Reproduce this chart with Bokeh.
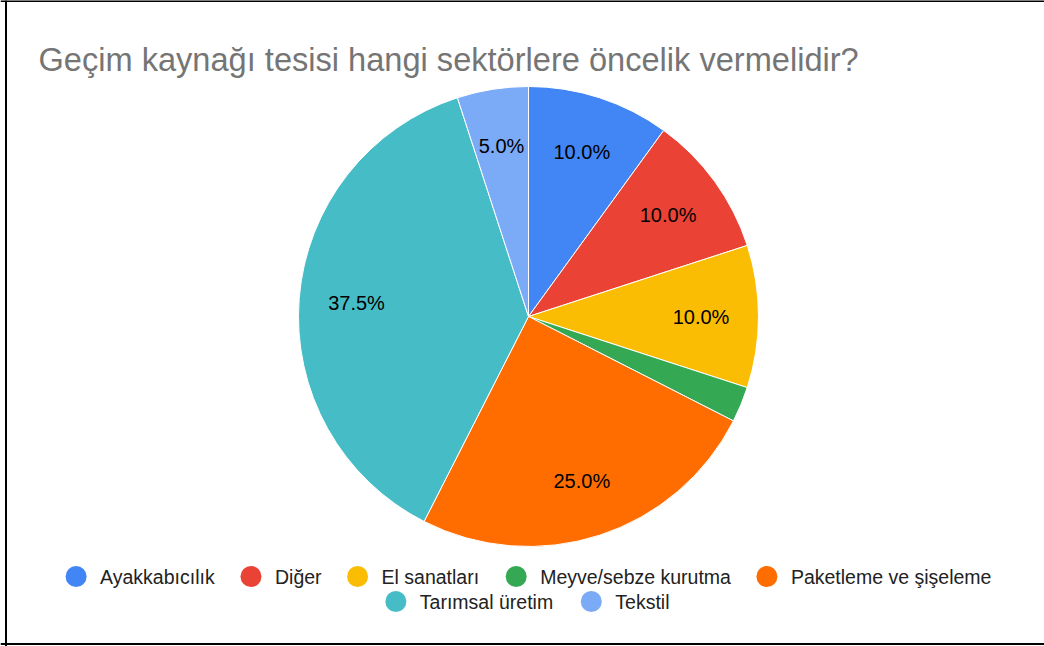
import math
from bokeh.plotting import figure
from bokeh.models import ColumnDataSource, Range1d, Span
from bokeh.core.properties import value
from bokeh.embed import file_html
from bokeh.resources import INLINE

# ---- data ----
title_text = "Geçim kaynağı tesisi hangi sektörlere öncelik vermelidir?"
categories = ["Ayakkabıcılık", "Diğer", "El sanatları", "Meyve/sebze kurutma",
              "Paketleme ve şişeleme", "Tarımsal üretim", "Tekstil"]
values = [10.0, 10.0, 10.0, 2.5, 25.0, 37.5, 5.0]
colors = ["#4285F4", "#EA4335", "#FBBC04", "#34A853", "#FF6D01", "#46BDC6", "#7BAAF7"]
show_label = [True, True, True, False, True, True, True]
legend_rows = [categories[:5], categories[5:]]

# ---- layout ----
W, H = 1044, 646
FONT = "Liberation Sans"
CX, CY, R = 528, 330, 230
LABEL_R = 0.75 * R
LABEL_FONT = 20
LEG_FONT = 19.5
LEG_Y = [70, 45]

# Arial / Liberation Sans advance widths (1/1000 em)
ADV = {" ": 278, "%": 889, ".": 278, "/": 278, "?": 556,
       "A": 667, "D": 722, "E": 722, "G": 778, "M": 833, "P": 667, "T": 611,
       "a": 556, "b": 556, "c": 500, "d": 556, "e": 556, "g": 556, "h": 556,
       "i": 222, "k": 500, "l": 222, "m": 833, "n": 556, "o": 556, "p": 556,
       "r": 333, "s": 500, "t": 278, "u": 556, "v": 500, "y": 500, "z": 500,
       "ı": 278, "ğ": 556, "ş": 500, "ü": 556, "ç": 500, "ö": 556}


def text_width(s, size):
    return sum(ADV.get(ch, 556) for ch in s) * size / 1000.0


total = sum(values)
starts, ends = [], []
cum = 0.0
for v in values:
    starts.append(math.pi / 2 - 2 * math.pi * cum / total)
    cum += v
    ends.append(math.pi / 2 - 2 * math.pi * cum / total)

pie = ColumnDataSource(dict(start=starts, end=ends, color=colors, cat=categories))

lx, ly, lt = [], [], []
for s, e, v, sh in zip(starts, ends, values, show_label):
    if not sh:
        continue
    mid = (s + e) / 2
    lx.append(CX + LABEL_R * math.cos(mid))
    ly.append(CY + LABEL_R * math.sin(mid))
    lt.append(f"{v / total * 100:.1f}%")
labels = ColumnDataSource(dict(x=lx, y=ly, t=lt))

# legend positions
DOT = 21
DOT_TO_TEXT = 13.5
ITEM_GAP = 25.5
mx, my, mc, tx, ty, tt = [], [], [], [], [], []
for row, yrow in zip(legend_rows, LEG_Y):
    widths = [DOT + DOT_TO_TEXT + text_width(c, LEG_FONT) for c in row]
    tot = sum(widths) + ITEM_GAP * (len(row) - 1)
    x = CX - tot / 2
    for c, w in zip(row, widths):
        mx.append(x + DOT / 2)
        my.append(yrow)
        mc.append(colors[categories.index(c)])
        tx.append(x + DOT + DOT_TO_TEXT)
        ty.append(yrow)
        tt.append(c)
        x += w + ITEM_GAP
leg_m = ColumnDataSource(dict(x=mx, y=my, c=mc))
leg_t = ColumnDataSource(dict(x=tx, y=ty, t=tt))

p = figure(width=W, height=H, output_backend="svg", toolbar_location=None,
           x_range=Range1d(0, W), y_range=Range1d(0, H),
           x_axis_location=None, y_axis_location=None, min_border=0)
p.grid.visible = False
p.outline_line_color = None
p.background_fill_color = "white"
p.border_fill_color = "white"

p.wedge(x=CX, y=CY, radius=R, start_angle="start", end_angle="end",
        direction="clock", fill_color="color", line_color="white",
        line_width=1, source=pie)

p.text(x="x", y="y", text="t", source=labels, text_font=value(FONT),
       text_font_size=f"{LABEL_FONT}px", text_color="#000000", text_align="center",
       text_baseline="middle")

p.text(x=[38], y=[587], text=[title_text], text_font=value(FONT),
       text_font_size="32.6px", text_color="#757575", text_align="left",
       text_baseline="alphabetic")

p.scatter(x="x", y="y", size=DOT, fill_color="c", line_color=None,
          marker="circle", source=leg_m)
p.text(x="x", y="y", text="t", source=leg_t, text_font=value(FONT),
       text_font_size=f"{LEG_FONT}px", text_color="#222222", text_align="left",
       text_baseline="middle")

for loc, dim in [(5.5, "height"), (H - 0.5, "width"), (2.5, "width")]:
    p.add_layout(Span(location=loc, dimension=dim, line_color="black",
                      line_width=2))

open("out.html", "w").write(file_html(p, INLINE))
